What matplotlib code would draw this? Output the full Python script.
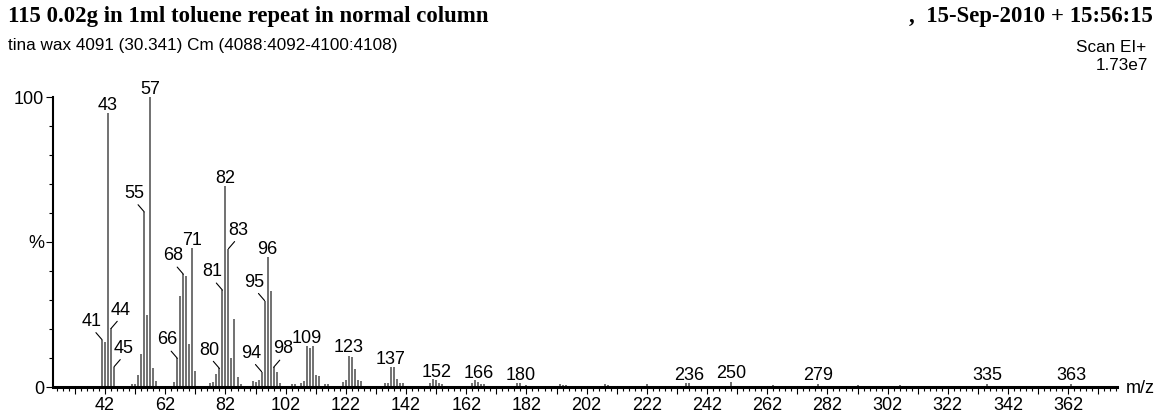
import numpy as np
import matplotlib.pyplot as plt

# peak list (m/z, % of base peak)
mz = [41, 42, 43, 44, 45, 51, 52, 53, 54, 55, 56, 57, 58, 59,
      65, 66, 67, 68, 69, 70, 71, 72,
      77, 78, 79, 80, 81, 82, 83, 84, 85, 86, 87,
      91, 92, 93, 94, 95, 96, 97, 98, 99, 100,
      104, 105, 107, 108, 109, 110, 111, 112, 113, 115, 116,
      121, 122, 123, 124, 125, 126, 127,
      135, 136, 137, 138, 139, 140, 141,
      150, 151, 152, 153, 154,
      164, 165, 166, 167, 168,
      179, 180, 182, 193, 194, 195, 207, 208, 209,
      222, 235, 236, 250, 264, 279, 292, 306, 335, 363]
intensity = [16.3, 15.5, 94.4, 20.2, 7.0, 1.2, 1.2, 4.1, 11.4, 60.4, 25.0, 100.0, 6.4, 2.0,
             1.8, 9.9, 31.5, 38.9, 38.4, 14.7, 47.8, 5.5,
             1.5, 1.7, 4.5, 6.4, 33.4, 69.3, 47.7, 9.9, 23.5, 3.4, 1.0,
             2.0, 1.7, 2.4, 5.3, 29.8, 44.7, 33.2, 6.8, 5.3, 1.5,
             1.0, 1.0, 1.5, 2.1, 14.1, 13.3, 14.1, 4.1, 3.8, 1.0, 1.0,
             1.8, 2.4, 10.7, 10.2, 6.3, 2.4, 2.2,
             1.3, 1.3, 6.8, 6.8, 2.6, 1.5, 1.5,
             1.5, 2.6, 2.3, 1.5, 1.0,
             1.3, 2.4, 1.8, 1.0, 1.0,
             1.3, 1.3, 0.7, 1.0, 0.8, 0.6, 0.5, 1.0, 0.7,
             1.2, 1.3, 1.3, 1.8, 0.8, 1.2, 0.8, 0.8, 1.2, 1.2]

labelled = [41, 43, 44, 45, 55, 57, 66, 68, 71, 80, 81, 82, 83, 94, 95, 96, 98,
            109, 123, 137, 152, 166, 180, 236, 250, 279, 335, 363]
# which labels sit beside their peak with a leader line (-1 left, +1 right)
leader_side = {41: -1, 44: 1, 45: 1, 55: -1, 66: -1, 68: -1, 80: -1, 81: -1,
               83: 1, 94: -1, 95: -1, 98: 1}

title = "115 0.02g in 1ml toluene repeat in normal column"
subtitle = "tina wax 4091 (30.341) Cm (4088:4092-4100:4108)"
stamp = ",  15-Sep-2010 + 15:56:15"
scan = "Scan EI+"
base_int = "1.73e7"

sans = ['Liberation Sans', 'DejaVu Sans']
serif = ['Liberation Serif', 'DejaVu Serif']

W, H = 1157, 416
fig = plt.figure(figsize=(W / 100, H / 100), dpi=100)
ax = fig.add_axes([53 / W, 29 / H, (1117 - 53) / W, 290 / H])

ax.vlines(mz, 0, intensity, color='#4a4a4a', lw=1.1, clip_on=False)

heights = dict(zip(mz, intensity))
for m in labelled:
    h = heights[m]
    if m in leader_side:
        ax.annotate(str(m), xy=(m, h), xytext=(leader_side[m] * 7.2, 10),
                    textcoords='offset points', ha='center', va='baseline',
                    fontsize=13, family=sans, annotation_clip=False,
                    arrowprops=dict(arrowstyle='-', lw=0.8, color='black',
                                    relpos=(0.5, 0.1), shrinkA=0, shrinkB=0))
    else:
        ax.annotate(str(m), xy=(m, h), xytext=(0, 2.5),
                    textcoords='offset points', ha='center', va='baseline',
                    fontsize=13, family=sans, annotation_clip=False)

ax.set_xlim(24.7, 378.2)
ax.set_ylim(0, 100)
for s in ['top', 'right']:
    ax.spines[s].set_visible(False)
ax.spines['left'].set_linewidth(1.5)
ax.spines['bottom'].set_linewidth(2.2)

major_x = np.arange(32, 379, 10)
ax.set_xticks(major_x)
ax.set_xticklabels([str(v) if (v - 42) % 20 == 0 else '' for v in major_x])
ax.set_xticks(np.arange(26, 379, 2), minor=True)
ax.set_yticks([0, 50, 100])
ax.set_yticklabels(['0', '%', '100'])
ax.set_yticks(np.arange(10, 100, 10), minor=True)
ax.tick_params(which='major', length=5, width=0.8, labelsize=13, pad=2.5)
ax.tick_params(which='minor', length=2.8, width=0.8)
ax.tick_params(axis='y', pad=1.5)
for lab in ax.get_xticklabels() + ax.get_yticklabels():
    lab.set_family(sans)

ax.annotate('m/z', xy=(1, 0), xycoords='axes fraction', xytext=(6, -1),
            textcoords='offset points', ha='left', va='center',
            fontsize=13, family=sans)

fig.text(8 / W, 1 - 22 / H, title, ha='left', va='baseline',
         fontsize=16.4, fontweight='bold', family=serif)
fig.text(8 / W, 1 - 50 / H, subtitle, ha='left', va='baseline',
         fontsize=12.3, family=sans)
fig.text(1153 / W, 1 - 22 / H, stamp, ha='right', va='baseline',
         fontsize=16.4, fontweight='bold', family=serif)
fig.text(1146 / W, 1 - 52 / H, scan, ha='right', va='baseline',
         fontsize=12.3, family=sans)
fig.text(1148 / W, 1 - 70 / H, base_int, ha='right', va='baseline',
         fontsize=12.3, family=sans)

fig.savefig('out.png', dpi=100, facecolor='white')
